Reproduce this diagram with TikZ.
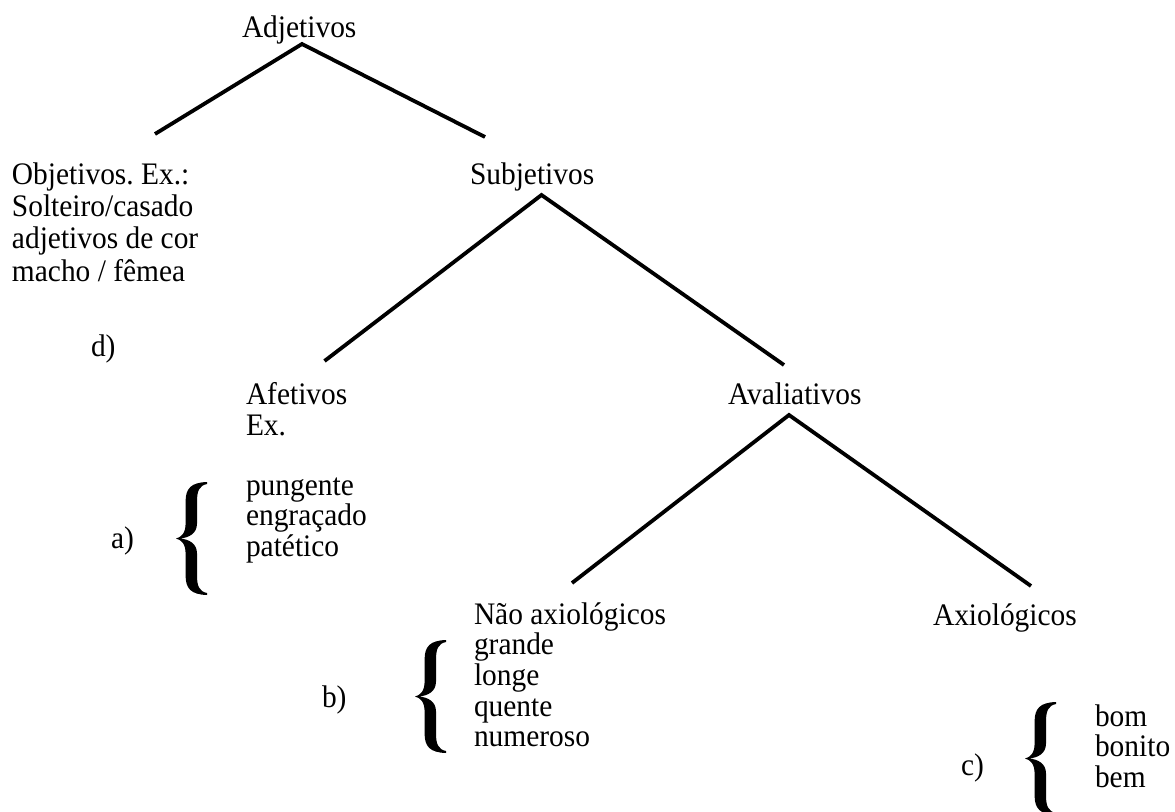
\documentclass[tikz,border=0pt]{standalone}
\usepackage{fontspec}
\setmainfont{Liberation Serif}[FakeStretch=0.94]
\frenchspacing
\begin{document}
\begin{tikzpicture}[x=1pt,y=-1pt,
  txt/.style={anchor=base west,inner sep=0pt,outer sep=0pt,font=\fontsize{31.3}{30.5}\selectfont},
  branch/.style={line width=3.8pt,line join=miter},
  curlybrace/.pic={
    \fill (31,-56.5) .. controls (15,-56) and (9.6,-50) .. (9.6,-37) -- (9.6,-15)
      .. controls (9.6,-5) and (5,-1.2) .. (0,0)
      .. controls (5,1.2) and (9.6,5) .. (9.6,15) -- (9.6,37)
      .. controls (9.6,50) and (15,56) .. (31,56.5)
      -- (31,54.5) .. controls (23,53) and (21,47) .. (21,37) -- (21,15)
      .. controls (21,5) and (13,0.8) .. (4,0)
      .. controls (13,-0.8) and (21,-5) .. (21,-15) -- (21,-37)
      .. controls (21,-47) and (23,-53) .. (31,-54.5) -- cycle;
  }]
\useasboundingbox[fill=white] (0,0) rectangle (1175,811);

% texts
\node[txt] (adj) at (242,37) {Adjetivos};
\node[txt] (obj) at (12,184) {\begin{tabular}[t]{@{}l@{}}Objetivos. Ex.:\\[1.5pt] Solteiro/casado\\[1.5pt] adjetivos de cor\\[1.5pt] macho / fêmea\end{tabular}};
\node[txt] (subj) at (470,184) {Subjetivos};
\node[txt] (d) at (91,356) {d)};
\node[txt] (afet) at (246,404) {\begin{tabular}[t]{@{}l@{}}Afetivos\\[0.5pt] Ex.\end{tabular}};
\node[txt] (aval) at (728,404) {Avaliativos};
\node[txt] (a) at (111,548) {a)};
\node[txt] (afex) at (246,495) {\begin{tabular}[t]{@{}l@{}}pungente\\ engraçado\\ patético\end{tabular}};
\node[txt] (nax) at (474,624) {\begin{tabular}[t]{@{}l@{}}Não axiológicos\\ grande\\ longe\\ quente\\ numeroso\end{tabular}};
\node[txt] (ax) at (933,625) {Axiológicos};
\node[txt] (b) at (322,707) {b)};
\node[txt] (c) at (961,775) {c)};
\node[txt] (axex) at (1095,726) {\begin{tabular}[t]{@{}l@{}}bom\\ bonito\\ bem\end{tabular}};

% branch points
\coordinate (adjA) at (302,44);
\coordinate (objT) at (155,134);
\coordinate (subjT) at (485,137);
\coordinate (subjA) at (541.5,195);
\coordinate (afetT) at (324.5,361);
\coordinate (avalT) at (784,365);
\coordinate (avalA) at (789,415);
\coordinate (naxT) at (572,583);
\coordinate (axT) at (1031,586);

\draw[branch] (objT) -- (adjA) -- (subjT);
\draw[branch] (afetT) -- (subjA) -- (avalT);
\draw[branch] (naxT) -- (avalA) -- (axT);

% braces
\pic at (176,538.5) {curlybrace};
\pic at (415,696.5) {curlybrace};
\pic at (1025,758.5) {curlybrace};
\end{tikzpicture}
\end{document}
